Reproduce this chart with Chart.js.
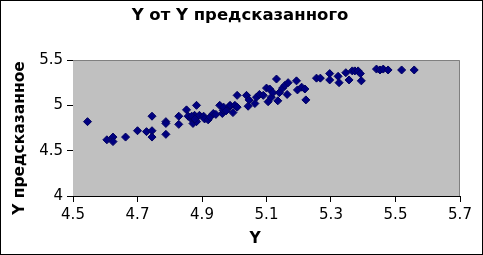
<!DOCTYPE html>
<html>
<head>
<meta charset="utf-8">
<script src="https://cdn.jsdelivr.net/npm/chart.js@4"></script>
<style>
  body { margin: 0; background: #fff; }
  canvas { display: block; }
</style>
</head>
<body>
<canvas id="scatterChart" width="483" height="255"></canvas>
<script>
const yActual = [
    4.545, 4.605, 4.624, 4.624, 4.663, 4.70, 4.728, 4.745, 4.745, 4.745,
    4.788, 4.788, 4.788, 4.828, 4.828, 4.852, 4.857, 4.867, 4.872, 4.877,
    4.883, 4.883, 4.868, 4.878, 4.892, 4.905, 4.908, 4.919, 4.925, 4.935,
    4.943, 4.955, 4.963, 4.966, 4.967, 4.975, 4.986, 4.987, 4.996, 5.002,
    5.009, 5.009, 5.038, 5.043, 5.046, 5.064, 5.069, 5.078, 5.09, 5.10,
    5.105, 5.11, 5.115, 5.12, 5.131, 5.135, 5.14, 5.15, 5.157, 5.164,
    5.167, 5.193, 5.196, 5.209, 5.219, 5.222, 5.255, 5.267, 5.296, 5.296,
    5.322, 5.325, 5.346, 5.356, 5.366, 5.374, 5.384, 5.391, 5.394, 5.441,
    5.452, 5.462, 5.477, 5.519, 5.558
];
// predicted Y values, same order
const yPredicted = [
    4.82, 4.62, 4.65, 4.60, 4.65, 4.72, 4.71, 4.72, 4.65, 4.88,
    4.82, 4.80, 4.68, 4.79, 4.88, 4.95, 4.88, 4.85, 4.80, 4.89,
    5.00, 4.82, 4.88, 4.85, 4.89, 4.88, 4.85, 4.84, 4.87, 4.91,
    4.90, 5.00, 4.91, 4.945, 4.98, 4.94, 4.99, 5.00, 4.92, 5.00,
    4.98, 5.11, 5.11, 4.99, 5.06, 5.02, 5.09, 5.12, 5.11, 5.19,
    5.04, 5.18, 5.09, 5.14, 5.29, 5.05, 5.14, 5.19, 5.22, 5.12,
    5.25, 5.27, 5.17, 5.20, 5.18, 5.06, 5.30, 5.30, 5.35, 5.28,
    5.32, 5.25, 5.36, 5.28, 5.38, 5.38, 5.38, 5.35, 5.27, 5.40,
    5.39, 5.40, 5.39, 5.39, 5.39
];
const xTicks = [4.5, 4.7, 4.9, 5.1, 5.3, 5.5, 5.7];
const yTicks = [4, 4.5, 5, 5.5];

const chartTitle = 'Y от Y предсказанного';
const xTitle = 'Y';
const yTitle = 'Y предсказанное';

const points = yActual.map((x, i) => ({ x: x, y: yPredicted[i] }));

// grey plot area, outer frame and the titles (placed like the Excel original)
const excelLook = {
    id: 'excelLook',
    beforeDatasetsDraw(chart) {
        const { ctx, chartArea: a } = chart;
        ctx.save();
        ctx.fillStyle = '#c0c0c0';
        ctx.fillRect(a.left, a.top, a.right - a.left, a.bottom - a.top);
        ctx.strokeStyle = '#808080';
        ctx.lineWidth = 1;
        ctx.beginPath();
        ctx.moveTo(a.left, a.top + 0.5);
        ctx.lineTo(a.right - 0.5, a.top + 0.5);
        ctx.lineTo(a.right - 0.5, a.bottom);
        ctx.stroke();
        ctx.restore();
    },
    afterDraw(chart) {
        const ctx = chart.ctx;
        ctx.save();
        ctx.strokeStyle = '#000';
        ctx.lineWidth = 1;
        ctx.strokeRect(0.5, 0.5, chart.width - 1, chart.height - 1);

        ctx.fillStyle = '#000';
        ctx.textAlign = 'center';
        ctx.textBaseline = 'middle';
        ctx.font = 'bold 16.5px "DejaVu Sans"';
        ctx.fillText(chartTitle, 240, 16);
        ctx.font = 'bold 15.5px "DejaVu Sans"';
        ctx.fillText(xTitle, 255, 239);

        ctx.translate(20, 138);
        ctx.rotate(-Math.PI / 2);
        ctx.fillText(yTitle, 0, 0);
        ctx.restore();
    }
};

const ctx = document.getElementById('scatterChart').getContext('2d');

new Chart(ctx, {
    type: 'scatter',
    data: {
        datasets: [{
            data: points,
            pointStyle: 'rectRot',
            pointRadius: 4,
            backgroundColor: '#000080',
            borderColor: '#000060',
            borderWidth: 1
        }]
    },
    options: {
        responsive: false,
        animation: false,
        layout: { padding: { top: 60, right: 23, bottom: 0, left: 0 } },
        plugins: {
            legend: { display: false },
            title: { display: false },
            tooltip: { enabled: false }
        },
        scales: {
            x: {
                type: 'linear',
                min: 4.5,
                max: 5.7,
                afterBuildTicks: axis => { axis.ticks = xTicks.map(v => ({ value: v })); },
                afterFit: axis => { axis.height = 59; },
                grid: { drawOnChartArea: false, tickLength: 6, color: '#000' },
                border: { color: '#000' },
                ticks: {
                    color: '#000',
                    padding: 4,
                    maxRotation: 0,
                    font: { family: '"DejaVu Sans"', size: 15 },
                    callback: v => String(v)
                }
            },
            y: {
                type: 'linear',
                min: 4,
                max: 5.5,
                afterBuildTicks: axis => { axis.ticks = yTicks.map(v => ({ value: v })); },
                afterFit: axis => { axis.width = 73; },
                grid: { drawOnChartArea: false, tickLength: 6, color: '#000' },
                border: { color: '#000' },
                ticks: {
                    color: '#000',
                    padding: 4,
                    font: { family: '"DejaVu Sans"', size: 15 },
                    callback: v => String(v)
                }
            }
        }
    },
    plugins: [excelLook]
});
</script>
</body>
</html>
